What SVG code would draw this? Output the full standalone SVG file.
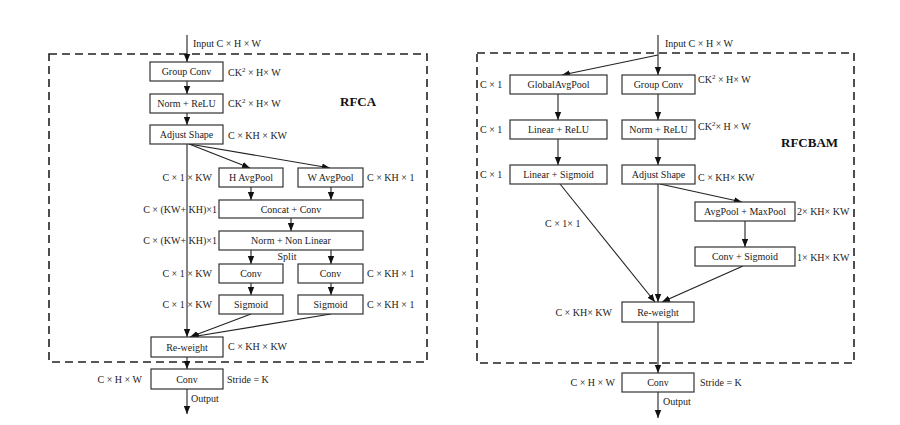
<svg xmlns="http://www.w3.org/2000/svg" width="900" height="425" viewBox="0 0 900 425">
<defs>
<marker id="ah" markerUnits="userSpaceOnUse" markerWidth="8" markerHeight="8" viewBox="0 0 8 8" refX="8" refY="4" orient="auto">
<path d="M0,0.8 L8,4 L0,7.2 Z" fill="#111"/>
</marker>
<style>
text{font-family:"Liberation Serif","Times New Roman",serif;font-size:10px;fill:#222}
.c{text-anchor:middle}
.e{text-anchor:end}
.b{font-weight:bold;font-size:13px;fill:#111}
rect.n{fill:#fff;stroke:#333;stroke-width:1.2}
.dash{fill:none;stroke:#222;stroke-width:1.6;stroke-dasharray:8,5}
#connectors line{stroke:#222;stroke-width:1.1;marker-end:url(#ah)}
</style>
</defs>
<rect width="900" height="425" fill="#fff"/>

<!-- frames -->
<rect class="dash" x="49" y="54" width="378" height="308"/>
<rect class="dash" x="477" y="53" width="377" height="310"/>

<g id="connectors">
<!-- left -->
<line x1="187" y1="35" x2="187" y2="62"/>
<line x1="187" y1="81" x2="187" y2="94"/>
<line x1="187" y1="113" x2="187" y2="125"/>
<line x1="187" y1="144" x2="187" y2="337"/>
<line x1="189" y1="144" x2="250" y2="168"/>
<line x1="189" y1="144" x2="330" y2="168"/>
<line x1="251" y1="187" x2="251" y2="200"/>
<line x1="331" y1="187" x2="331" y2="200"/>
<line x1="291" y1="218" x2="291" y2="231"/>
<line x1="251" y1="250" x2="251" y2="264"/>
<line x1="331" y1="250" x2="331" y2="264"/>
<line x1="251" y1="283" x2="251" y2="295"/>
<line x1="331" y1="283" x2="331" y2="295"/>
<line x1="251" y1="314" x2="190" y2="337"/>
<line x1="331" y1="314" x2="191" y2="337"/>
<line x1="187" y1="357" x2="187" y2="369"/>
<line x1="187" y1="389" x2="187" y2="414"/>
<!-- right -->
<line x1="658" y1="35" x2="658" y2="75"/>
<line x1="658" y1="55" x2="562" y2="75"/>
<line x1="558" y1="94" x2="558" y2="120"/>
<line x1="558" y1="139" x2="558" y2="165"/>
<line x1="658" y1="94" x2="658" y2="120"/>
<line x1="658" y1="139" x2="658" y2="165"/>
<line x1="658" y1="184" x2="658" y2="302"/>
<line x1="560" y1="184" x2="655" y2="302"/>
<line x1="660" y1="184" x2="742" y2="202"/>
<line x1="745" y1="221" x2="745" y2="247"/>
<line x1="743" y1="266" x2="662" y2="302"/>
<line x1="658" y1="322" x2="658" y2="373"/>
<line x1="658" y1="392" x2="658" y2="418"/>
</g>

<!-- left nodes -->
<g id="l-groupconv"><rect class="n" x="150" y="62" width="73" height="19"/><text class="c" x="186.5" y="75">Group Conv</text></g>
<g id="l-normrelu"><rect class="n" x="150" y="94" width="73" height="19"/><text class="c" x="186.5" y="107">Norm + ReLU</text></g>
<g id="l-adjust"><rect class="n" x="150" y="125" width="73" height="19"/><text class="c" x="186.5" y="138">Adjust Shape</text></g>
<g id="l-havg"><rect class="n" x="219" y="168" width="64" height="19"/><text class="c" x="251" y="181">H AvgPool</text></g>
<g id="l-wavg"><rect class="n" x="298" y="168" width="65" height="19"/><text class="c" x="330.5" y="181">W AvgPool</text></g>
<g id="l-concat"><rect class="n" x="219" y="200" width="144" height="18"/><text class="c" x="291" y="212.5">Concat + Conv</text></g>
<g id="l-normnl"><rect class="n" x="219" y="231" width="144" height="19"/><text class="c" x="291" y="244">Norm + Non Linear</text></g>
<g id="l-conv1"><rect class="n" x="219" y="264" width="64" height="19"/><text class="c" x="251" y="277">Conv</text></g>
<g id="l-conv2"><rect class="n" x="298" y="264" width="65" height="19"/><text class="c" x="330.5" y="277">Conv</text></g>
<g id="l-sig1"><rect class="n" x="219" y="295" width="64" height="19"/><text class="c" x="251" y="308">Sigmoid</text></g>
<g id="l-sig2"><rect class="n" x="298" y="295" width="65" height="19"/><text class="c" x="330.5" y="308">Sigmoid</text></g>
<g id="l-reweight"><rect class="n" x="151" y="337" width="72" height="20"/><text class="c" x="187" y="350.5">Re-weight</text></g>
<g id="l-conv"><rect class="n" x="151" y="369" width="72" height="20"/><text class="c" x="187" y="382.5">Conv</text></g>

<!-- left labels -->
<g id="l-labels">
<text x="193" y="47">Input  C × H × W</text>
<text x="228" y="76">CK<tspan dy="-4" font-size="7">2</tspan><tspan dy="4"> × H× W</tspan></text>
<text x="228" y="107">CK<tspan dy="-4" font-size="7">2</tspan><tspan dy="4"> × H× W</tspan></text>
<text x="228" y="139">C × KH × KW</text>
<text class="b" x="340" y="106">RFCA</text>
<text class="e" x="212" y="181">C × 1 × KW</text>
<text x="367" y="181">C × KH × 1</text>
<text class="e" x="217" y="213">C × (KW+ KH)×1</text>
<text class="e" x="217" y="244">C × (KW+ KH)×1</text>
<text class="c" x="287" y="260">Split</text>
<text class="e" x="212" y="277">C × 1 × KW</text>
<text x="367" y="277">C × KH × 1</text>
<text class="e" x="212" y="308">C × 1 × KW</text>
<text x="367" y="308">C × KH × 1</text>
<text x="228" y="350">C × KH × KW</text>
<text class="e" x="142" y="383">C × H × W</text>
<text x="227" y="383">Stride = K</text>
<text x="191" y="402">Output</text>
</g>

<!-- right nodes -->
<g id="r-gap"><rect class="n" x="510" y="75" width="97" height="19"/><text class="c" x="558.5" y="88">GlobalAvgPool</text></g>
<g id="r-linrelu"><rect class="n" x="510" y="120" width="97" height="19"/><text class="c" x="558.5" y="133">Linear + ReLU</text></g>
<g id="r-linsig"><rect class="n" x="510" y="165" width="97" height="19"/><text class="c" x="558.5" y="178">Linear + Sigmoid</text></g>
<g id="r-groupconv"><rect class="n" x="622" y="75" width="73" height="19"/><text class="c" x="658.5" y="88">Group Conv</text></g>
<g id="r-normrelu"><rect class="n" x="622" y="120" width="73" height="19"/><text class="c" x="658.5" y="133">Norm + ReLU</text></g>
<g id="r-adjust"><rect class="n" x="622" y="165" width="73" height="19"/><text class="c" x="658.5" y="178">Adjust Shape</text></g>
<g id="r-pool"><rect class="n" x="695" y="202" width="100" height="19"/><text class="c" x="745" y="215">AvgPool + MaxPool</text></g>
<g id="r-convsig"><rect class="n" x="695" y="247" width="100" height="19"/><text class="c" x="745" y="260">Conv + Sigmoid</text></g>
<g id="r-reweight"><rect class="n" x="622" y="302" width="72" height="20"/><text class="c" x="658" y="315.5">Re-weight</text></g>
<g id="r-conv"><rect class="n" x="622" y="373" width="72" height="19"/><text class="c" x="658" y="386">Conv</text></g>

<!-- right labels -->
<g id="r-labels">
<text x="665" y="47">Input  C × H × W</text>
<text x="480" y="88">C × 1</text>
<text x="480" y="133">C × 1</text>
<text x="480" y="178">C × 1</text>
<text x="698" y="83">CK<tspan dy="-4" font-size="7">2</tspan><tspan dy="4"> × H× W</tspan></text>
<text x="698" y="130">CK<tspan dy="-4" font-size="7">2</tspan><tspan dy="4">× H × W</tspan></text>
<text x="698" y="181">C × KH× KW</text>
<text class="b" x="781" y="147">RFCBAM</text>
<text x="797" y="215">2× KH× KW</text>
<text x="797" y="261">1× KH× KW</text>
<text x="545" y="227">C × 1× 1</text>
<text class="e" x="612" y="316">C × KH× KW</text>
<text class="e" x="615" y="386">C × H × W</text>
<text x="700" y="386">Stride = K</text>
<text x="663" y="405">Output</text>
</g>
</svg>
